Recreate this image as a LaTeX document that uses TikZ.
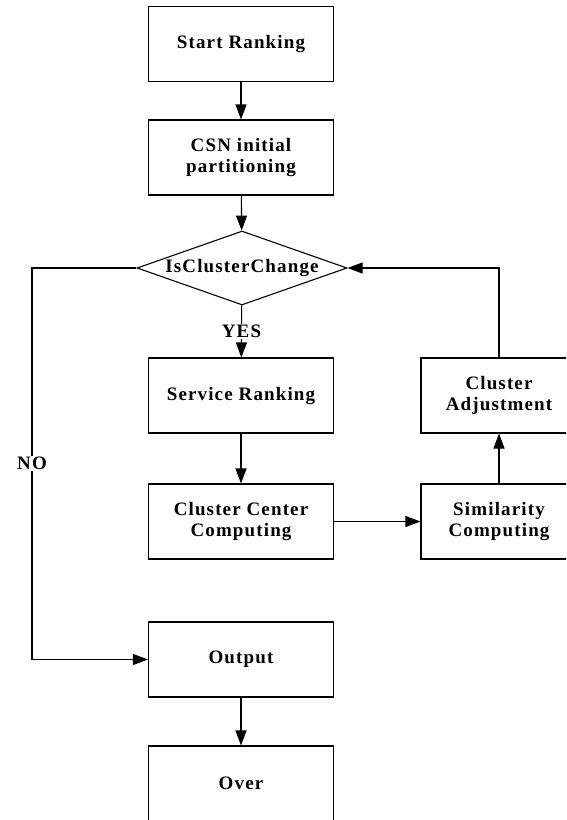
\documentclass[tikz,border=0pt]{standalone}
\usepackage{fontspec}
\setmainfont{Liberation Serif}[LetterSpace=6]
\usetikzlibrary{arrows.meta,shapes.geometric,positioning}

\begin{document}
\begin{tikzpicture}[x=1pt,y=-1pt]
\tikzset{PROCESS/.style={draw,rectangle,line width=1.1pt,text centered,align=center,minimum width=185pt,minimum height=75pt,font=\fontsize{19}{21}\selectfont\bfseries}}
\tikzset{SIDE PROCESS/.style={PROCESS,minimum width=156pt}}
\tikzset{DECISION/.style={draw,diamond,line width=1.1pt,inner sep=0pt,minimum width=210pt,minimum height=74pt}}

\tikzset{FLOW/.style={draw,line width=1.1pt,-{Triangle[length=15pt,width=11pt]}}}
\tikzset{ANSWER/.style={fill=white,inner sep=1pt,font=\fontsize{19}{21}\selectfont\bfseries}}

\clip (0,0) rectangle (566,820);

\node[PROCESS] (start) at (241,44) {Start Ranking};
\node[PROCESS] (csn) at (241,157.5) {CSN initial\\partitioning};
\node[DECISION,label={[font=\fontsize{19}{21}\selectfont\bfseries]center:IsClusterChange}] (change) at (242,268) {};
\node[PROCESS] (ranking) at (241,395.5) {Service Ranking};
\node[PROCESS] (center) at (241,521.5) {Cluster Center\\Computing};
\node[SIDE PROCESS] (similarity) at (499,521.5) {Similarity\\Computing};
\node[SIDE PROCESS] (adjustment) at (499,395.5) {Cluster\\Adjustment};
\node[PROCESS] (output) at (241,659.5) {Output};
\node[PROCESS] (over) at (241,783.5) {Over};
\coordinate (noline) at (32,268);

\path[FLOW] (start) -- (csn);
\path[FLOW] (csn) -- (change);
\path[FLOW] (change) -- node[ANSWER] {YES} (ranking);
\path[FLOW] (ranking) -- (center);
\path[FLOW] (center) -- (similarity);
\path[FLOW] (similarity) -- (adjustment);
\path[FLOW] (adjustment) |- (change.east);

\path[FLOW] (change.west) -- (noline) |- node[ANSWER,pos=0.25] {NO} (output.west);
\path[FLOW] (output) -- (over);

\end{tikzpicture}
\end{document}
